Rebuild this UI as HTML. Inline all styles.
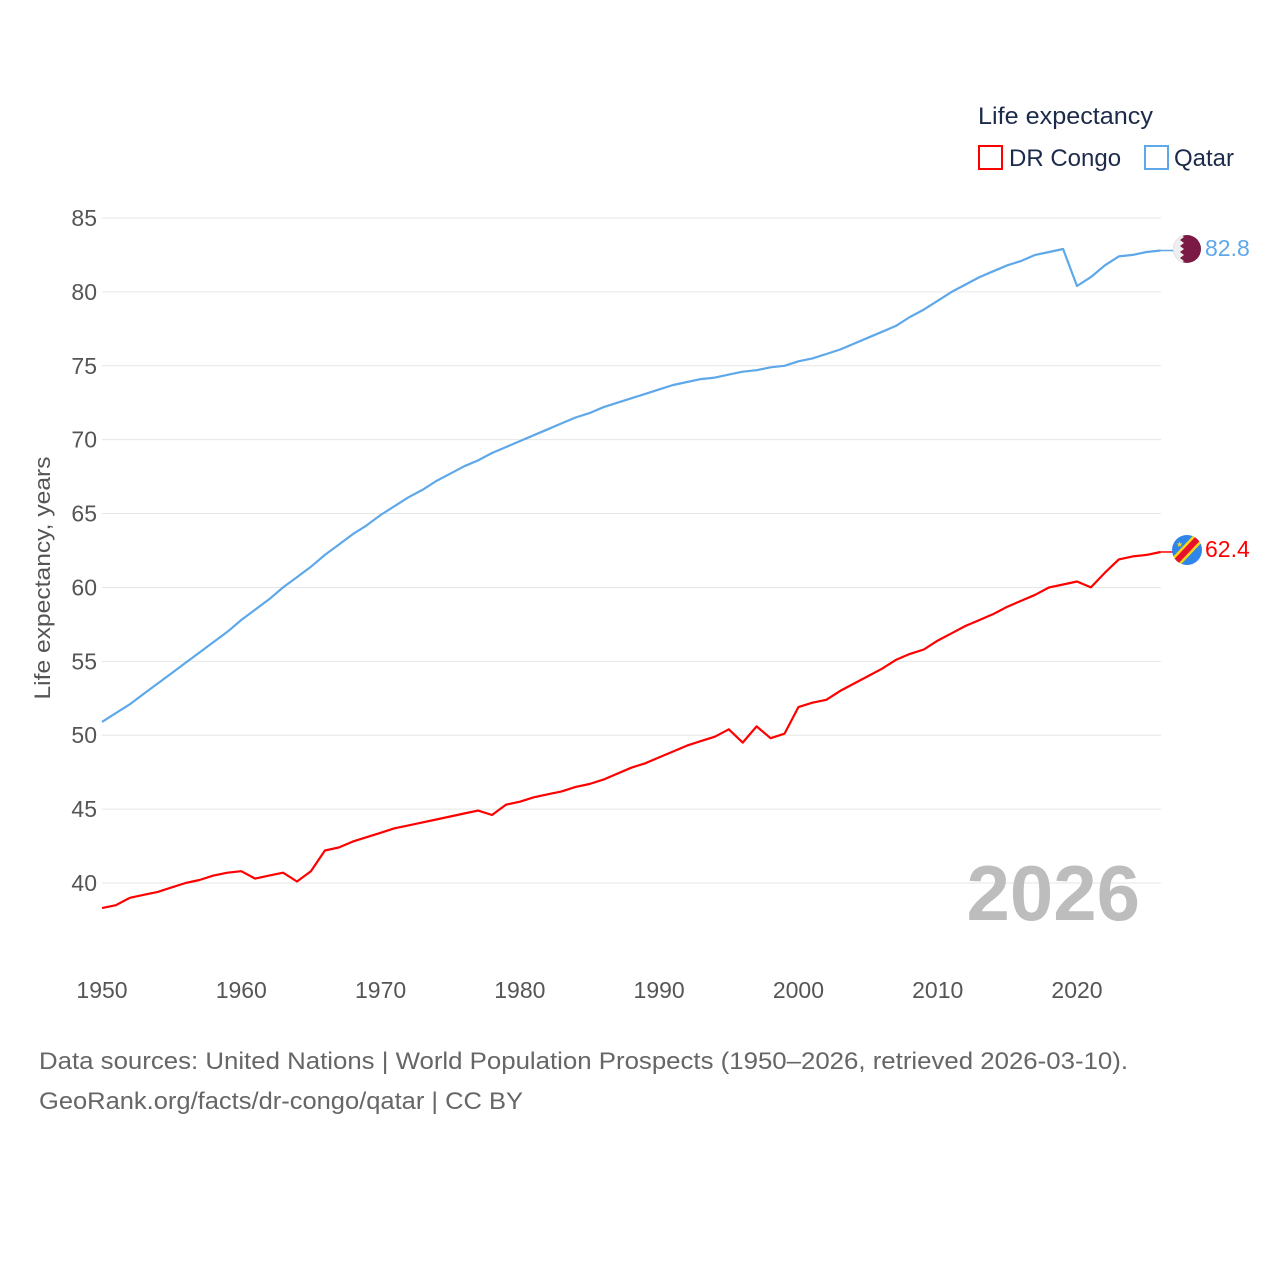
<!DOCTYPE html>
<html><head><meta charset="utf-8"><style>
body{margin:0;background:#fff;font-family:"Liberation Sans",sans-serif}
svg{display:block}
</style></head><body>
<svg id="c" width="1280" height="1280" font-family="Liberation Sans, sans-serif">
<defs>
<clipPath id="fq"><circle cx="1187" cy="249" r="14"/></clipPath>
<clipPath id="fc"><circle cx="1187" cy="550" r="15"/></clipPath>
</defs>
<g id="grid"></g>
<g id="yt"></g>
<g id="xt"></g>
<text transform="translate(50,578) rotate(-90)" text-anchor="middle" font-size="22" fill="#555" textLength="243" lengthAdjust="spacingAndGlyphs">Life expectancy, years</text>
<text x="1140" y="920" text-anchor="end" font-size="78" font-weight="bold" fill="#bdbdbd">2026</text>
<g id="lines"></g>
<g clip-path="url(#fq)">
<rect x="1172" y="234" width="30" height="30" fill="#7a1a45"/>
<polygon points="1172,234 1180,234 1184,237 1180,240 1184,243 1180,246 1184,249 1180,252 1184,255 1180,258 1184,261 1180,264 1172,264" fill="#eee"/>
</g>
<g clip-path="url(#fc)">
<rect x="1172" y="535" width="30" height="30" fill="#2f86e8"/>
<line x1="1170" y1="568" x2="1204" y2="532" stroke="#f7d618" stroke-width="11"/>
<line x1="1170" y1="568" x2="1204" y2="532" stroke="#e8102c" stroke-width="6"/>
<text x="1176" y="547" font-size="8" fill="#f7d618">★</text>
</g>
<text x="1205" y="256" font-size="23" fill="#5ea8ea">82.8</text>
<text x="1205" y="557" font-size="23" fill="#f00">62.4</text>
<g>
<text x="978" y="124" font-size="24" fill="#1d2b4a" textLength="175" lengthAdjust="spacingAndGlyphs">Life expectancy</text>
<rect x="979" y="146" width="23" height="23" fill="none" stroke="#f00" stroke-width="2"/>
<text x="1009" y="166" font-size="24" fill="#1d2b4a">DR Congo</text>
<rect x="1145" y="146" width="23" height="23" fill="none" stroke="#5ea8ea" stroke-width="2"/>
<text x="1174" y="166" font-size="24" fill="#1d2b4a">Qatar</text>
</g>
<text x="39" y="1069" font-size="24" fill="#666" textLength="1089" lengthAdjust="spacingAndGlyphs">Data sources: United Nations | World Population Prospects (1950–2026, retrieved 2026-03-10).</text>
<text x="39" y="1109" font-size="24" fill="#666" textLength="484" lengthAdjust="spacingAndGlyphs">GeoRank.org/facts/dr-congo/qatar | CC BY</text>
</svg>
<script>
const startYear=1950;
const yTicks=[40,45,50,55,60,65,70,75,80,85];
const xTicks=[1950,1960,1970,1980,1990,2000,2010,2020];
const qatar=[50.9,51.5,52.1,52.8,53.5,54.2,54.9,55.6,56.3,57.0,57.8,58.5,59.2,60.0,60.7,61.4,62.2,62.9,63.6,64.2,64.9,65.5,66.1,66.6,67.2,67.7,68.2,68.6,69.1,69.5,69.9,70.3,70.7,71.1,71.5,71.8,72.2,72.5,72.8,73.1,73.4,73.7,73.9,74.1,74.2,74.4,74.6,74.7,74.9,75.0,75.3,75.5,75.8,76.1,76.5,76.9,77.3,77.7,78.3,78.8,79.4,80.0,80.5,81.0,81.4,81.8,82.1,82.5,82.7,82.9,80.4,81.0,81.8,82.4,82.5,82.7,82.8];
const drCongo=[38.3,38.5,39.0,39.2,39.4,39.7,40.0,40.2,40.5,40.7,40.8,40.3,40.5,40.7,40.1,40.8,42.2,42.4,42.8,43.1,43.4,43.7,43.9,44.1,44.3,44.5,44.7,44.9,44.6,45.3,45.5,45.8,46.0,46.2,46.5,46.7,47.0,47.4,47.8,48.1,48.5,48.9,49.3,49.6,49.9,50.4,49.5,50.6,49.8,50.1,51.9,52.2,52.4,53.0,53.5,54.0,54.5,55.1,55.5,55.8,56.4,56.9,57.4,57.8,58.2,58.7,59.1,59.5,60.0,60.2,60.4,60.0,61.0,61.9,62.1,62.2,62.4];
const NS='http://www.w3.org/2000/svg';
const X=y=>102+(y-1950)*(1077-102)/70;
const Y=v=>883-(v-40)*(883-218)/45;
function mk(t,a,p){const e=document.createElementNS(NS,t);for(const k in a)e.setAttribute(k,a[k]);p.appendChild(e);return e;}
const grid=document.getElementById('grid'),yt=document.getElementById('yt'),xt=document.getElementById('xt'),lines=document.getElementById('lines');
yTicks.forEach(v=>{
 const l=mk('line',{x1:102,x2:1161,y1:Y(v),y2:Y(v),stroke:'#e6e6e6','stroke-width':1},grid);
 
 
 const t=mk('text',{x:97,y:Y(v)+8,'text-anchor':'end','font-size':23,fill:'#555'},yt);
 
 
 t.textContent=v;
});
xTicks.forEach(v=>{
 const t=mk('text',{x:X(v),y:998,'text-anchor':'middle','font-size':23,fill:'#555'},xt);
 
 
 t.textContent=v;
});
function series(d,c,n){
 const pts=d.map((v,i)=>X(startYear+i).toFixed(1)+','+Y(v).toFixed(1)).join(' ');
 const p=mk('polyline',{points:pts,fill:'none',stroke:c,'stroke-width':2.2,'stroke-linejoin':'round'},lines);
 
 
 const last=d[d.length-1];
 const s=mk('line',{x1:X(startYear+d.length-1),x2:1175,y1:Y(last),y2:Y(last),stroke:c,'stroke-width':1.5},lines);
 
 
}
series(qatar,'#5ea8ea','qatar-line');
series(drCongo,'#ff0000','dr-congo-line');
</script>
</body></html>
